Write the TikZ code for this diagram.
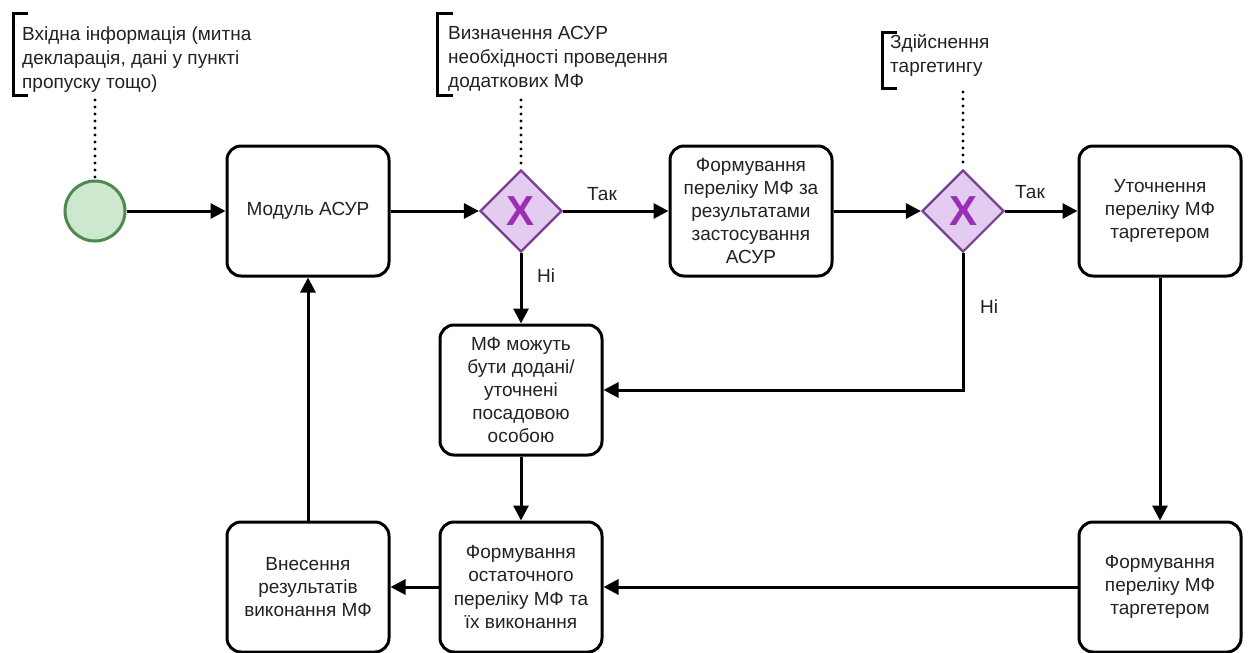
\documentclass[tikz,border=0pt]{standalone}
\usepackage{fontspec}
\setmainfont{Liberation Sans}
\usetikzlibrary{shapes.geometric,arrows.meta}
\definecolor{gwfill}{HTML}{E3CCEF}
\definecolor{gwdraw}{HTML}{7B3F91}
\definecolor{gwx}{HTML}{9A2FB5}
\definecolor{stfill}{HTML}{CDE8CF}
\definecolor{stdraw}{HTML}{4E8A50}
\definecolor{ink}{HTML}{222222}
\begin{document}
\begin{tikzpicture}[x=1pt,y=-1pt,
  task/.style={draw=black, line width=3pt, rounded corners=14pt, minimum width=162pt, minimum height=130pt, align=center, font=\fontsize{19}{23.2}\selectfont, text=ink, inner sep=0pt},
  gate/.style={diamond, draw=gwdraw, fill=gwfill, line width=2.2pt, minimum width=82pt, minimum height=82pt, inner sep=0pt, text=gwx, font=\fontsize{42}{42}\bfseries\selectfont},
  startev/.style={circle, draw=stdraw, fill=stfill, line width=3pt, minimum size=60pt, inner sep=0pt},
  flow/.style={line width=3pt, -{Triangle[length=15pt,width=15pt]}},
  ann/.style={align=left, anchor=north west, inner sep=0pt, font=\fontsize{19}{24}\selectfont, text=ink},
  brk/.style={line width=3pt},
  assoc/.style={line width=3.2pt, dash pattern=on 0pt off 7pt, line cap=round},
  lbl/.style={anchor=base west, inner sep=0pt, font=\fontsize{19}{22}\selectfont, text=ink}
]
\useasboundingbox (0,0) rectangle (1253,653);
\fill[white] (0,0) rectangle (1253,653);

% annotations
\node[ann] (a1) at (22,23.2) {\strut Вхідна інформація (митна\\декларація, дані у пункті\\пропуску тощо)};
\draw[brk] (28,13) -- (13,13) -- (13,95) -- (28,95);
\node[ann] (a2) at (448,22.2) {\strut Визначення АСУР\\необхідності проведення\\додаткових МФ};
\draw[brk] (453,13) -- (437,13) -- (437,95) -- (453,95);
\node[ann] (a3) at (890,31.2) {\strut Здійснення\\таргетингу};
\draw[brk] (897,32) -- (882,32) -- (882,88) -- (897,88);
\coordinate (a1e) at (95,100);
\coordinate (a2e) at (521,100);
\coordinate (a3e) at (963,92);

% nodes
\node[startev] (start) at (95,211) {};
\node[task] (asur) at (308,211) {Модуль АСУР};
\node[gate] (gw1) at (521,211) {X};
\node[task] (f1) at (751,211) {Формування\\переліку МФ за\\результатами\\застосування\\АСУР};
\node[gate] (gw2) at (963,211) {X};
\node[task] (ut) at (1160,211) {Уточнення\\переліку МФ\\таргетером};
\node[task] (mozh) at (521,390) {МФ можуть\\бути додані/\\уточнені\\посадовою\\особою};
\node[task] (ost) at (521,587) {Формування\\остаточного\\переліку МФ та\\їх виконання};
\node[task] (vnes) at (308,587) {Внесення\\результатів\\виконання МФ};
\node[task] (ftarg) at (1160,587) {Формування\\переліку МФ\\таргетером};

% associations
\draw[assoc] (a1e) -- (start.north);
\draw[assoc] (a2e) -- (gw1.north);
\draw[assoc] (a3e) -- (gw2.north);

% flows
\draw[flow] (start) -- (asur);
\draw[flow] (asur) -- (gw1);
\draw[flow] (gw1) -- (f1);
\draw[flow] (f1) -- (gw2);
\draw[flow] (gw2) -- (ut);
\draw[flow] (gw1) -- (mozh);
\draw[flow] (gw2.south) |- (mozh.east);
\draw[flow] (mozh) -- (ost);
\draw[flow] (ut) -- (ftarg);
\draw[flow] (ftarg) -- (ost);
\draw[flow] (ost) -- (vnes);
\draw[flow] (vnes) -- (asur);

% labels
\node[lbl] (t1) at (587,200) {Так};
\node[lbl] (t2) at (1015,198) {Так};
\node[lbl] (n1) at (537,282) {Ні};
\node[lbl] (n2) at (980,313) {Ні};
\end{tikzpicture}
\end{document}
